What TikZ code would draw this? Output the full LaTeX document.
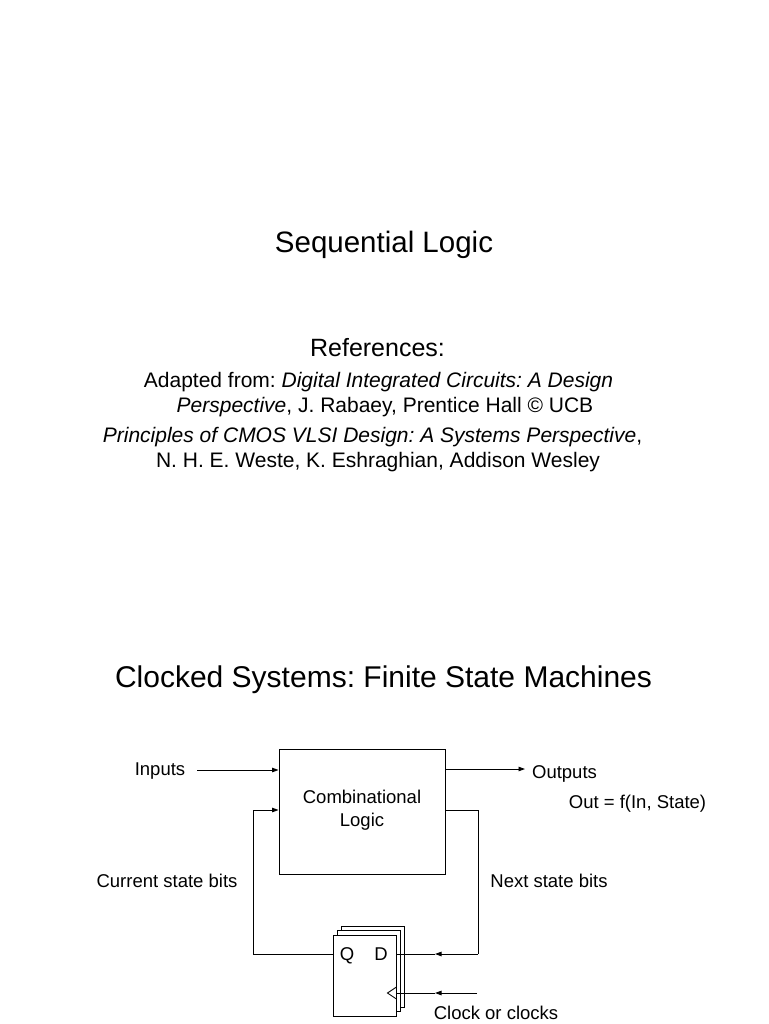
\documentclass[tikz,border=0pt]{standalone}
\usepackage{fontspec}
\setmainfont{Liberation Sans}
\usetikzlibrary{arrows.meta}
\begin{document}
\frenchspacing
\begin{tikzpicture}[x=1pt,y=-1pt,
  title/.style={anchor=base,inner sep=0pt,font=\fontsize{29.5}{35}\selectfont},
  subtitle/.style={anchor=base,inner sep=0pt,font=\fontsize{25}{30}\selectfont},
  body/.style={anchor=base,inner sep=0pt,font=\fontsize{21}{25}\selectfont},
  lbl/.style={anchor=base,inner sep=0pt,font=\fontsize{18.5}{22}\selectfont},
  wire/.style={line width=0.9pt,black},
  arr/.style={wire,-{Triangle[length=6.5pt,width=4.5pt]}},
  block/.style={draw,line width=0.9pt,fill=white,inner sep=0pt},
]
\useasboundingbox (0,0) rectangle (768,1024);
\fill[white] (0,0) rectangle (768,1024);

% Slide 1
\node[title] (t1) at (384,252.5) {Sequential Logic};
\node[subtitle] (refs) at (377.5,356) {References:};
\node[body] (r1) at (378.5,387) {Adapted from: \textit{Digital Integrated Circuits: A Design}};
\node[body] (r2) at (385,412) {\textit{Perspective}, J. Rabaey, Prentice Hall © UCB};
\node[body] (r3) at (372.5,442) {\textit{Principles of CMOS VLSI Design: A Systems Perspective},};
\node[body] (r4) at (378,467) {N. H. E. Weste, K. Eshraghian, Addison Wesley};

% Slide 2
\node[title,font=\fontsize{30}{36}\selectfont] (t2) at (383.5,687) {Clocked Systems: Finite State Machines};

\node[block,minimum width=166pt,minimum height=125pt] (comb) at (362,811.5) {};
\node[lbl] (c1) at (362,803.5) {Combinational};
\node[lbl] (c2) at (362,826.5) {Logic};

% flip-flop stack
\node[block,minimum width=63pt,minimum height=81pt] (ff3) at (372.5,966.5) {};
\node[block,minimum width=63pt,minimum height=81pt] (ff2) at (368.5,970.5) {};
\node[block,minimum width=63pt,minimum height=81pt] (ff) at (364.5,975.5) {};
\node[lbl] (q) at (347,960.5) {Q};
\node[lbl] (d) at (381,960.5) {D};
\draw[wire] (ff.east |- 0,987) -- ++(-9,6) -- ++(9,6);

% labels
\node[lbl] (in) at (160,775.5) {Inputs};
\node[lbl] (out) at (564.5,778.5) {Outputs};
\node[lbl] (eq) at (637.5,808.5) {Out = f(In, State)};
\node[lbl] (cur) at (167,887.5) {Current state bits};
\node[lbl] (nxt) at (549,887.5) {Next state bits};
\node[lbl] (clk) at (496,1019.5) {Clock or clocks};

% coordinates
\coordinate (inA) at (197,770);
\coordinate (outA) at (445,769);
\coordinate (outB) at (525,769);
\coordinate (fbL) at (253,954);
\coordinate (fbR) at (478,810);
\coordinate (dA) at (435,954);
\coordinate (ckS) at (477,993);
\coordinate (ckA) at (435,993);

% connectors
\draw[arr] (inA) -- (comb.west |- inA);
\draw[arr] (outA) -- (outB);
\draw[wire] (ff.west |- fbL) -- (fbL) -- (fbL |- fbR);
\draw[arr] (fbL |- fbR) -- (comb.west |- fbR);
\draw[wire] (comb.east |- fbR) -- (fbR) -- (fbR |- dA);
\draw[arr] (fbR |- dA) -- (dA);
\draw[wire] (dA) -- (ff.east |- dA);
\draw[arr] (ckS) -- (ckA);
\draw[wire] (ckA) -- (ff.east |- ckA);
\end{tikzpicture}
\end{document}
